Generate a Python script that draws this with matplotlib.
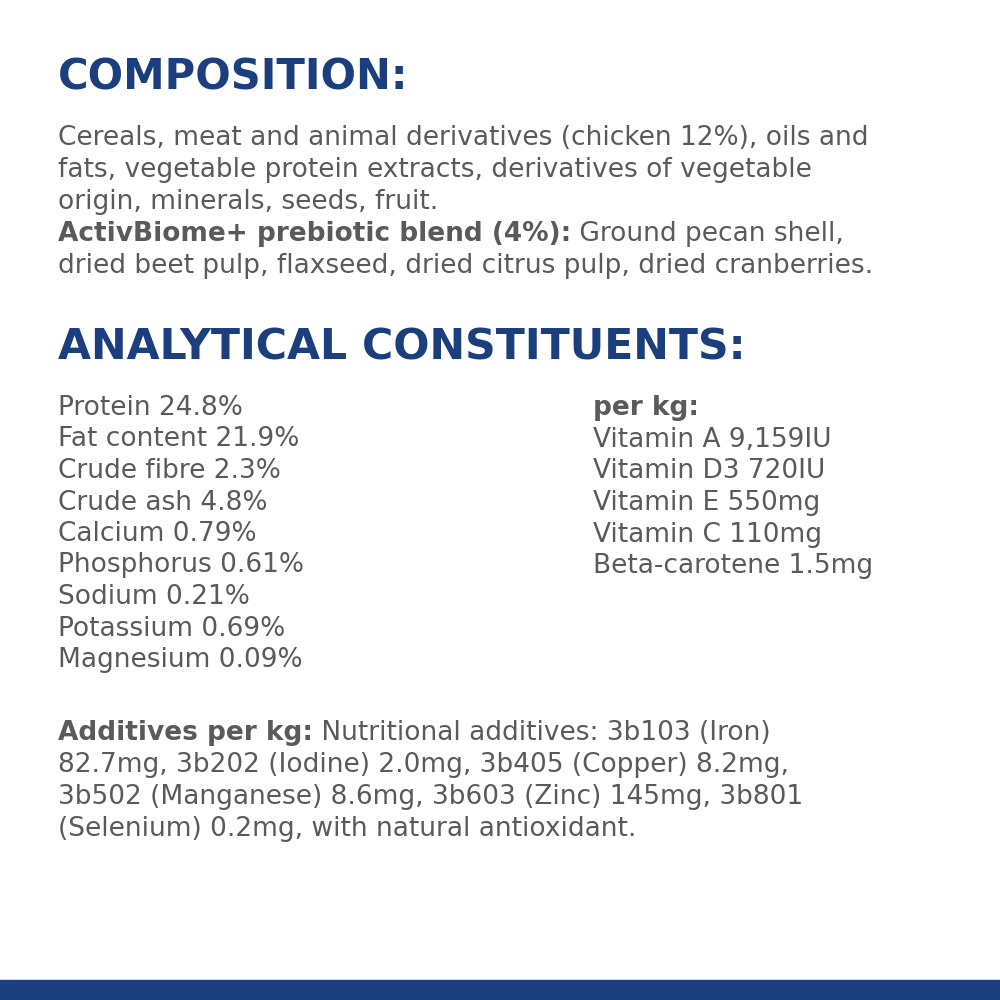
import matplotlib
matplotlib.use("Agg")
import matplotlib.pyplot as plt
from matplotlib.patches import Rectangle

NAVY = "#1b3f7c"
GRAY = "#5a5a5a"

title1 = "COMPOSITION:"
comp_lines = [
    ("", "Cereals, meat and animal derivatives (chicken 12%), oils and"),
    ("", "fats, vegetable protein extracts, derivatives of vegetable"),
    ("", "origin, minerals, seeds, fruit."),
    ("ActivBiome+ prebiotic blend (4%):", " Ground pecan shell,"),
    ("", "dried beet pulp, flaxseed, dried citrus pulp, dried cranberries."),
]
title2 = "ANALYTICAL CONSTITUENTS:"
left_col = ["Protein 24.8%", "Fat content 21.9%", "Crude fibre 2.3%", "Crude ash 4.8%",
            "Calcium 0.79%", "Phosphorus 0.61%", "Sodium 0.21%", "Potassium 0.69%",
            "Magnesium 0.09%"]
right_head = "per kg:"
right_col = ["Vitamin A 9,159IU", "Vitamin D3 720IU", "Vitamin E 550mg",
             "Vitamin C 110mg", "Beta-carotene 1.5mg"]
add_lines = [
    ("Additives per kg:", " Nutritional additives: 3b103 (Iron)"),
    ("", "82.7mg, 3b202 (Iodine) 2.0mg, 3b405 (Copper) 8.2mg,"),
    ("", "3b502 (Manganese) 8.6mg, 3b603 (Zinc) 145mg, 3b801"),
    ("", "(Selenium) 0.2mg, with natural antioxidant."),
]

plt.rcParams['font.family'] = ['DejaVu Sans']
fig = plt.figure(figsize=(10, 10), dpi=100)
ax = fig.add_axes([0, 0, 1, 1])
ax.set_xlim(0, 1000); ax.set_ylim(1000, 0); ax.axis("off")
fig.canvas.draw()
r = fig.canvas.get_renderer()
FS = 19

def fit(t, target):
    bb = t.get_window_extent(renderer=r)
    t.set_fontsize(t.get_fontsize() * target / bb.width)

def rich(x, y, bold, normal):
    if bold:
        t = ax.text(x, y, bold, fontsize=FS, color=GRAY, fontweight="bold", va="center")
        bb = t.get_window_extent(renderer=r)
        x2 = ax.transData.inverted().transform((bb.x1, 0))[0]
        ax.text(x2, y, normal, fontsize=FS, color=GRAY, va="center")
    else:
        ax.text(x, y, normal, fontsize=FS, color=GRAY, va="center")

t1 = ax.text(58, 78, title1, fontsize=28, color=NAVY, fontweight="heavy", va="center")
fit(t1, 350)
for i, (b, n) in enumerate(comp_lines):
    rich(58, 138 + i * 32, b, n)
t2 = ax.text(58, 347, title2, fontsize=28, color=NAVY, fontweight="heavy", va="center")
fit(t2, 690)
for i, s in enumerate(left_col):
    ax.text(58, 408 + i * 31.5, s, fontsize=FS, color=GRAY, va="center")
ax.text(593, 408, right_head, fontsize=FS, color=GRAY, fontweight="bold", va="center")
for i, s in enumerate(right_col):
    ax.text(593, 440 + i * 31.5, s, fontsize=FS, color=GRAY, va="center")
for i, (b, n) in enumerate(add_lines):
    rich(58, 733 + i * 32, b, n)
ax.add_patch(Rectangle((0, 980), 1000, 20, color=NAVY))
fig.savefig("out.png", dpi=100)
